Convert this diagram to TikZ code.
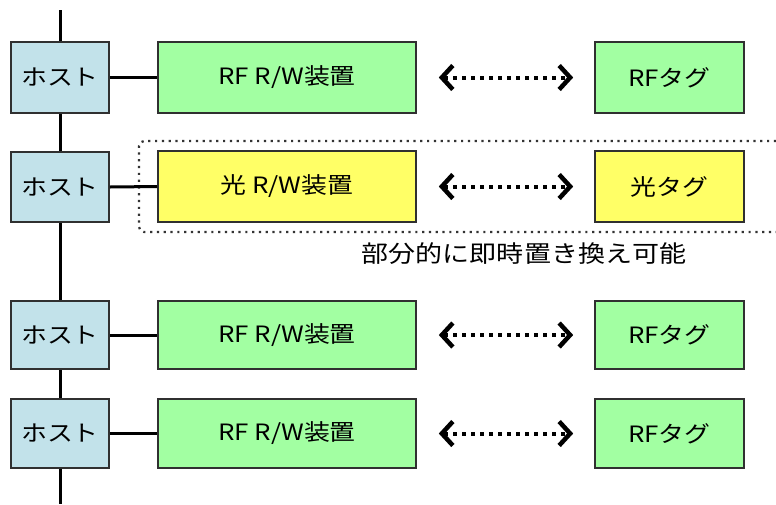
\documentclass[tikz,border=0pt]{standalone}
\usepackage{fontspec}
\setmainfont{Noto Sans CJK JP}[FakeStretch=1.15]
\usetikzlibrary{arrows.meta}
\definecolor{hostblue}{HTML}{C2E2EA}
\definecolor{rfgreen}{HTML}{A2FFA2}
\definecolor{optyellow}{HTML}{FFFF66}
\definecolor{edgegray}{HTML}{303030}
\tikzset{
  box/.style={draw=edgegray, line width=1.6pt, inner sep=0pt, font=\fontsize{22.5}{25}\selectfont},
  hostbox/.style={box, fill=hostblue, minimum width=98pt},
  rwbox/.style={box, fill=rfgreen, minimum width=258pt},
  tagbox/.style={box, fill=rfgreen, minimum width=149pt},
  bus/.style={line width=3pt, black},
  link/.style={line width=3pt, black},
  dotarrow/.style={line width=4pt, black, dash pattern=on 4pt off 5pt,
     {Straight Barb[length=11pt, width=24pt, line width=4.5pt]}-{Straight Barb[length=11pt, width=24pt, line width=4.5pt]},
     shorten <=22pt, shorten >=21pt},
  groupframe/.style={line width=2.2pt, dash pattern=on 2.2pt off 4.6pt, black!80, rounded corners=5pt},
}
\begin{document}
\begin{tikzpicture}[x=1pt,y=-1pt]
\useasboundingbox (0,0) rectangle (776,504);
\fill[white] (0,0) rectangle (776,504);
% bus
\coordinate (bustop) at (60,10);
\coordinate (busbot) at (60,504);
\draw[bus] (bustop) -- (busbot);
% group frame
\draw[groupframe] (776,141) -- (139,141) -- (139,232) -- (776,232);
% row 1
\node[hostbox, minimum height=71pt] (h1) at (60,77.5) {ホスト};
\node[rwbox, minimum height=71pt] (r1) at (287,77.5) {RF R/W装置};
\node[tagbox, minimum height=71pt] (t1) at (669.5,77.5) {RFタグ};
% row 2
\node[hostbox, minimum height=70pt] (h2) at (60,187) {ホスト};
\node[rwbox, fill=optyellow, minimum height=71pt] (r2) at (287,186.5) {光 R/W装置};
\node[tagbox, fill=optyellow, minimum height=71pt] (t2) at (669.5,186.5) {光タグ};
% row 3
\node[hostbox, minimum height=68pt] (h3) at (60,335) {ホスト};
\node[rwbox, minimum height=68pt] (r3) at (287,335) {RF R/W装置};
\node[tagbox, minimum height=68pt] (t3) at (669.5,335) {RFタグ};
% row 4
\node[hostbox, minimum height=69pt] (h4) at (60,433.5) {ホスト};
\node[rwbox, minimum height=69pt] (r4) at (287,433.5) {RF R/W装置};
\node[tagbox, minimum height=69pt] (t4) at (669.5,433.5) {RFタグ};
% links
\foreach \i in {1,2,3,4}{
  \draw[link] (h\i.east) -- (r\i.west);
  \draw[dotarrow] (r\i.east) -- (t\i.west);
}
% caption
\node[font=\fontsize{23.5}{26}\selectfont, inner sep=0pt] (cap) at (524,254) {部分的に即時置き換え可能};
\end{tikzpicture}
\end{document}
